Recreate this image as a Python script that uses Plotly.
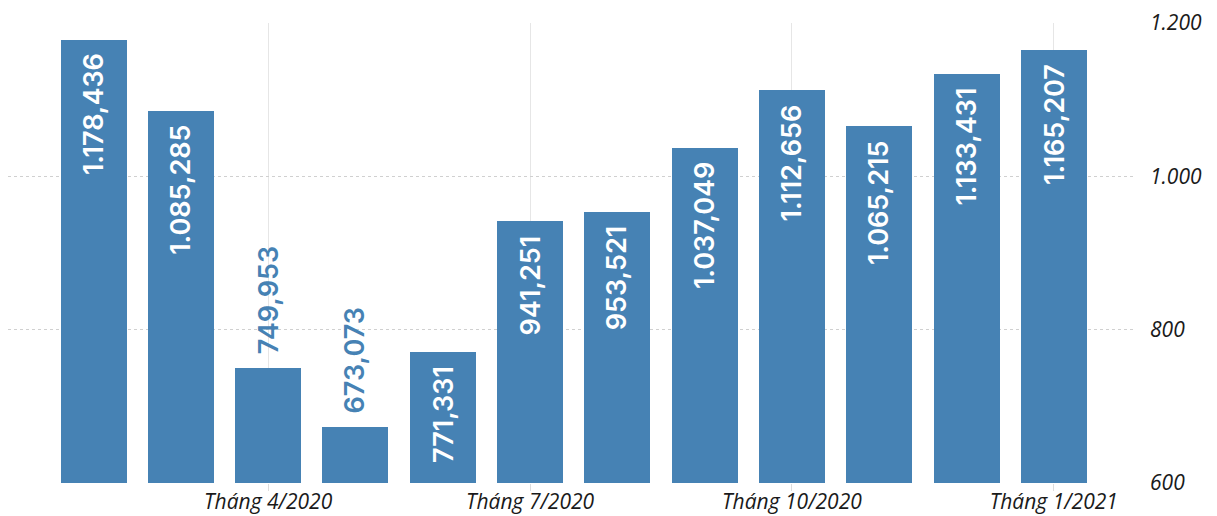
import plotly.graph_objects as go

# Monthly values, Feb 2020 - Jan 2021
months = ["2/2020", "3/2020", "4/2020", "5/2020", "6/2020", "7/2020",
          "8/2020", "9/2020", "10/2020", "11/2020", "12/2020", "1/2021"]
values = [1178.436, 1085.285, 749.953, 673.073, 771.331, 941.251,
          953.521, 1037.049, 1112.656, 1065.215, 1133.431, 1165.207]

x_tick_idx = [2, 5, 8, 11]
x_tick_text = ["Tháng 4/2020", "Tháng 7/2020", "Tháng 10/2020", "Tháng 1/2021"]
y_tick_vals = [600, 800, 1000, 1200]
y_tick_text = ["600", "800", "1.000", "1.200"]

BAR_COLOR = "#4682b4"
Y_MIN, Y_MAX = 600, 1200


def vn_number(v):
    s = f"{v:,.3f}"
    return s.replace(",", "#").replace(".", ",").replace("#", ".")


xs = list(range(len(values)))

fig = go.Figure()
fig.add_trace(go.Bar(
    x=xs, y=values,
    marker=dict(color=BAR_COLOR, line=dict(width=0)),
    width=0.756,
    hoverinfo="skip",
))

# Rotated value labels: inside the bar when it is tall enough, otherwise above it
label_font = dict(family="Inter", size=27, weight=600)
for xi, v in zip(xs, values):
    inside = (v - Y_MIN) > 160
    fig.add_annotation(
        x=xi, y=v, xref="x", yref="y",
        text=vn_number(v), textangle=-90, showarrow=False,
        xanchor="center",
        yanchor="top" if inside else "bottom",
        yshift=-12 if inside else 12,
        font=dict(label_font, color="white" if inside else BAR_COLOR),
    )

tick_font = dict(family="Open Sans", size=21, color="#1a1a1a", style="italic")

fig.update_layout(
    width=1217, height=516,
    margin=dict(l=8, r=82, t=23, b=33, autoexpand=False),
    paper_bgcolor="white", plot_bgcolor="white",
    showlegend=False,
    bargap=0,
    xaxis=dict(
        range=[-0.98, 11.93],
        tickmode="array", tickvals=x_tick_idx, ticktext=x_tick_text,
        tickfont=tick_font, automargin=False,
        showgrid=True, gridcolor="#e6e6e6", gridwidth=1,
        ticks="outside", ticklen=7, tickcolor="#dddddd",
        ticklabelstandoff=-7,
        showline=False, zeroline=False,
        fixedrange=True,
    ),
    yaxis=dict(
        range=[Y_MIN, Y_MAX], side="right",
        tickmode="array", tickvals=y_tick_vals, ticktext=y_tick_text,
        tickfont=tick_font, automargin=False,
        showgrid=True, gridcolor="#d0d0d0", gridwidth=1, griddash="dot",
        ticks="", ticklabelstandoff=14,
        showline=False, zeroline=False,
        fixedrange=True,
    ),
)

fig.write_html("out.html")
